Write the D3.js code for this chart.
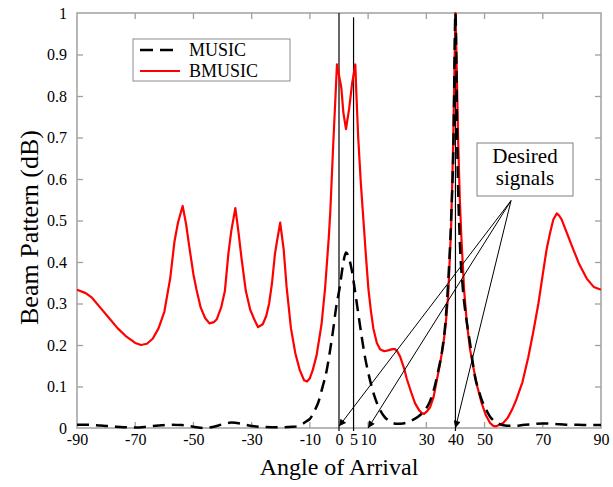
<!DOCTYPE html>
<html>
<head>
<meta charset="utf-8">
<script src="https://cdn.jsdelivr.net/npm/d3@7"></script>
<style>
	html, body {
		margin: 0;
		padding: 0;
		background: #ffffff;
	}

	svg text {
		font-family: "Liberation Serif", "Times New Roman", serif;
		fill: #000000;
	}

	.axis line {
		stroke: #a0a0a0;
		stroke-width: 1.3px;
	}
</style>
</head>
<body>
<div id="chart"></div>
<script>
// Angles (deg) and values
const musicAngles = [-90, -86, -82, -78, -74, -70, -66, -62, -58, -54, -50, -46, -43, -40, -37, -34, -31, -27, -23, -19, -16, -14.5, -12.5, -11, -10, -8.5, -7.1, -5.8, -4.2, -3, -2, -1, 0.3, 1.3, 2.4, 3.4, 4.4, 5.5, 6.6, 7.8, 8.9, 10, 11.2, 12.5, 14, 15.5, 17, 18.5, 20, 22, 24, 26, 28, 29.5, 31, 32.5, 34, 35.5, 36.5, 37.5, 38.5, 39.3, 40, 40.7, 41.5, 42.5, 43.8, 45, 46, 46.7, 48, 49, 50.5, 51.9, 53.5, 55, 57, 60, 63, 66, 70, 74, 78, 82, 86, 90];
const musicValues = [0.008, 0.008, 0.006, 0.004, 0.002, 0.001, 0.003, 0.006, 0.008, 0.007, 0.003, 0.0, 0.003, 0.009, 0.013, 0.011, 0.006, 0.003, 0.002, 0.002, 0.003, 0.004, 0.01, 0.017, 0.022, 0.04, 0.062, 0.095, 0.14, 0.19, 0.237, 0.29, 0.341, 0.39, 0.423, 0.41, 0.38, 0.33, 0.277, 0.22, 0.172, 0.135, 0.1, 0.07, 0.045, 0.028, 0.018, 0.012, 0.01, 0.011, 0.015, 0.022, 0.032, 0.043, 0.06, 0.09, 0.135, 0.19, 0.25, 0.35, 0.5, 0.68, 1.0, 0.65, 0.45, 0.34, 0.26, 0.205, 0.155, 0.124, 0.09, 0.068, 0.045, 0.027, 0.016, 0.01, 0.006, 0.005, 0.007, 0.009, 0.011, 0.01, 0.008, 0.008, 0.007, 0.007];

const bmusicAngles = [-90, -87, -85, -82, -79, -76, -73, -70, -68, -66, -64, -62, -60, -58, -56.5, -55.3, -53.7, -52.5, -51.5, -50, -49, -47.5, -46, -44.5, -43, -42, -40.5, -39.2, -38, -37, -35.6, -34.5, -33.5, -32, -30.5, -29, -27.8, -26.2, -25, -24, -23, -22, -21.3, -20.2, -19, -18, -16.5, -15, -13.5, -12, -11, -10, -9, -7.7, -6, -4.8, -3.5, -3, -2, -1.2, -0.7, 0, 0.8, 1.5, 2.4, 3.5, 4.5, 5.6, 6, 6.6, 7.5, 8.4, 9.3, 10.1, 11, 11.8, 13, 14.1, 15.5, 16.9, 18.3, 19.2, 20, 21, 22.3, 23.3, 24.7, 26.1, 27.5, 28.5, 29.2, 30.2, 31.3, 32.5, 33.6, 34.7, 35.8, 36.6, 37.5, 38.5, 39.2, 39.7, 40, 40.4, 40.9, 41.5, 42.1, 43, 43.9, 45, 46.1, 47.5, 49, 50.5, 51.9, 53, 54, 55, 56.4, 58, 59.5, 61, 63, 65, 66.7, 68.5, 70, 71.3, 72.5, 73.6, 74.8, 75.6, 76.5, 78, 80.5, 82.5, 85.1, 87.5, 90];
const bmusicValues = [0.333, 0.325, 0.315, 0.29, 0.265, 0.24, 0.22, 0.205, 0.2, 0.203, 0.215, 0.24, 0.28, 0.36, 0.45, 0.495, 0.535, 0.49, 0.44, 0.37, 0.335, 0.29, 0.265, 0.252, 0.255, 0.262, 0.29, 0.33, 0.42, 0.475, 0.53, 0.47, 0.41, 0.33, 0.285, 0.26, 0.243, 0.25, 0.27, 0.3, 0.35, 0.42, 0.45, 0.495, 0.43, 0.34, 0.24, 0.18, 0.14, 0.115, 0.112, 0.12, 0.14, 0.175, 0.25, 0.335, 0.46, 0.52, 0.68, 0.8, 0.876, 0.85, 0.82, 0.76, 0.72, 0.77, 0.83, 0.876, 0.8, 0.7, 0.59, 0.5, 0.41, 0.335, 0.28, 0.24, 0.205, 0.19, 0.185, 0.187, 0.19, 0.19, 0.185, 0.172, 0.145, 0.118, 0.088, 0.06, 0.043, 0.036, 0.034, 0.04, 0.05, 0.075, 0.115, 0.155, 0.2, 0.245, 0.32, 0.48, 0.68, 0.88, 1.0, 0.88, 0.7, 0.55, 0.45, 0.33, 0.255, 0.19, 0.148, 0.1, 0.06, 0.03, 0.012, 0.005, 0.004, 0.007, 0.012, 0.025, 0.045, 0.07, 0.11, 0.17, 0.23, 0.3, 0.37, 0.43, 0.47, 0.502, 0.517, 0.512, 0.502, 0.475, 0.43, 0.395, 0.36, 0.34, 0.333];

const xTickLabels = [-90, -70, -50, -30, -10, 0, 5, 10, 30, 40, 50, 70, 90];
const xTickMarks = [-70, -50, -30, -10, 10, 30, 50, 70];
const yTicks = [0, 0.1, 0.2, 0.3, 0.4, 0.5, 0.6, 0.7, 0.8, 0.9, 1];
const markerAngles = [0, 5, 40];
const markerTops = [1, 0.99, 1];
const arrowTargets = [[0, 0.004], [10, 0], [40, 0]];
const arrowOrigin = [59.1, 0.548];
const seriesNames = ["MUSIC", "BMUSIC"];

const width = 613;
const height = 487;
const margin = {top: 13, right: 12, bottom: 59, left: 77};
const innerW = width - margin.left - margin.right;
const innerH = height - margin.top - margin.bottom;
const serif = '"Liberation Serif", "Times New Roman", serif';

const svg = d3
	.select("#chart")
	.append("svg")
	.attr("width", width)
	.attr("height", height);

svg
	.append("defs")
	.append("marker")
	.attr("id", "arrow")
	.attr("viewBox", "0 0 10 10")
	.attr("refX", 10)
	.attr("refY", 5)
	.attr("markerWidth", 9)
	.attr("markerHeight", 7)
	.attr("markerUnits", "userSpaceOnUse")
	.attr("orient", "auto")
	.append("path")
	.attr("d", "M0,0L10,5L0,10Z")
	.attr("fill", "#000000");

const g = svg
	.append("g")
	.attr("transform", `translate(${margin.left},${margin.top})`);

const x = d3.scaleLinear().domain([-90, 90]).range([0, innerW]);
const y = d3.scaleLinear().domain([0, 1]).range([innerH, 0]);

// Bottom axis: labels only, marks drawn below
const xAxis = g
	.append("g")
	.attr("class", "axis")
	.attr("transform", `translate(0,${innerH})`)
	.call(
		d3
			.axisBottom(x)
			.tickValues(xTickLabels)
			.tickSize(0)
			.tickPadding(6)
			.tickFormat((d) => String(d)),
	)
	.attr("font-family", serif)
	.attr("font-size", 16);
xAxis.select(".domain").remove();

// inward tick marks on bottom and top edges
[innerH, 0].forEach((edge) => {
	g.append("g")
		.attr("class", "axis")
		.selectAll("line")
		.data(xTickMarks)
		.enter()
		.append("line")
		.attr("x1", (d) => x(d))
		.attr("x2", (d) => x(d))
		.attr("y1", edge)
		.attr("y2", edge === 0 ? 6 : edge - 6);
});

const yAxis = g
	.append("g")
	.attr("class", "axis")
	.call(
		d3
			.axisLeft(y)
			.tickValues(yTicks)
			.tickSize(-6)
			.tickPadding(10)
			.tickFormat(d3.format("~g")),
	)
	.attr("font-family", serif)
	.attr("font-size", 16);
yAxis.select(".domain").remove();
yAxis.selectAll(".tick line").filter((d) => d === 0 || d === 1).remove();

const yRight = g
	.append("g")
	.attr("class", "axis")
	.attr("transform", `translate(${innerW},0)`)
	.call(
		d3.axisRight(y).tickValues(yTicks.slice(1, -1)).tickSize(-6).tickFormat(""),
	);
yRight.select(".domain").remove();

// Frame
g.append("rect")
	.attr("width", innerW)
	.attr("height", innerH)
	.attr("fill", "none")
	.attr("stroke", "#a0a0a0")
	.attr("stroke-width", 1.5);

// Vertical markers at the signal angles
g.append("g")
	.selectAll("line")
	.data(markerAngles)
	.enter()
	.append("line")
	.attr("x1", (d) => x(d))
	.attr("x2", (d) => x(d))
	.attr("y1", y(0) + 3)
	.attr("y2", (d, i) => y(markerTops[i]))
	.attr("stroke", "#000000")
	.attr("stroke-width", 1.2);

const line = d3
	.line()
	.x((d) => x(d[0]))
	.y((d) => y(d[1]));

g.append("path")
	.datum(d3.zip(bmusicAngles, bmusicValues))
	.attr("d", line)
	.attr("fill", "none")
	.attr("stroke", "#ff0000")
	.attr("stroke-width", 2.2)
	.attr("stroke-linejoin", "round");

g.append("path")
	.datum(d3.zip(musicAngles, musicValues))
	.attr("d", line.curve(d3.curveMonotoneX))
	.attr("fill", "none")
	.attr("stroke", "#000000")
	.attr("stroke-width", 2.5)
	.attr("stroke-dasharray", "12,7");

// Annotation arrows
g.append("g")
	.selectAll("line")
	.data(arrowTargets)
	.enter()
	.append("line")
	.attr("x1", x(arrowOrigin[0]))
	.attr("y1", y(arrowOrigin[1]))
	.attr("x2", (d) => x(d[0]))
	.attr("y2", (d) => y(d[1]))
	.attr("stroke", "#000000")
	.attr("stroke-width", 1)
	.attr("marker-end", "url(#arrow)");

const note = svg.append("g").attr("transform", "translate(477,143)");
note
	.append("rect")
	.attr("width", 96)
	.attr("height", 53)
	.attr("fill", "#ffffff")
	.attr("stroke", "#7f7f7f")
	.attr("stroke-width", 1);
note
	.selectAll("text")
	.data(["Desired", "signals"])
	.enter()
	.append("text")
	.attr("x", 48)
	.attr("y", (d, i) => 20 + i * 22)
	.attr("text-anchor", "middle")
	.style("font-size", "21px")
	.text((d) => d);

// Legend
const legend = svg.append("g").attr("transform", "translate(133,39)");
legend
	.append("rect")
	.attr("width", 157)
	.attr("height", 42)
	.attr("fill", "#ffffff")
	.attr("stroke", "#8c8c8c")
	.attr("stroke-width", 1);

const legendRows = legend
	.selectAll("g")
	.data(seriesNames)
	.enter()
	.append("g")
	.attr("transform", (d, i) => `translate(0,${11 + i * 21})`);

legendRows
	.append("line")
	.attr("x1", 7)
	.attr("x2", 47)
	.attr("stroke", (d, i) => (i === 0 ? "#000000" : "#ff0000"))
	.attr("stroke-width", (d, i) => (i === 0 ? 2.5 : 2.2))
	.attr("stroke-dasharray", (d, i) => (i === 0 ? "13,7" : null));

legendRows
	.append("text")
	.attr("x", 56)
	.attr("y", 6)
	.style("font-size", "18px")
	.text((d) => d);

// Axis titles
svg
	.append("text")
	.attr("x", margin.left + innerW / 2)
	.attr("y", 475)
	.attr("text-anchor", "middle")
	.style("font-size", "24px")
	.text("Angle of Arrival");

svg
	.append("text")
	.attr("transform", `translate(38,${margin.top + innerH / 2 + 7})rotate(-90)`)
	.attr("text-anchor", "middle")
	.style("font-size", "26px")
	.text("Beam Pattern (dB)");
</script>
</body>
</html>
